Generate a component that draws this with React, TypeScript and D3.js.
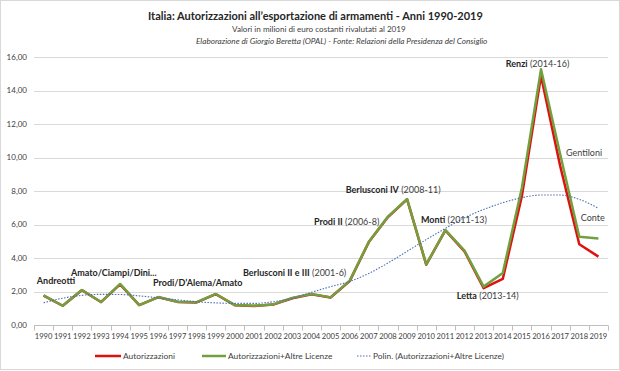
import React, {useRef, useEffect} from 'react';
import * as d3 from 'd3';

const width = 620;
const height = 371;
const font = 'Lato, "Open Sans", sans-serif';

const years = d3.range(1990, 2020).map(String);

// Autorizzazioni (milioni di euro costanti 2019)
const autorizzazioni = [
  1.75, 1.15, 2.08, 1.37, 2.43, 1.19, 1.66, 1.38, 1.35, 1.84,
  1.18, 1.14, 1.22, 1.6, 1.83, 1.64, 2.62, 4.95, 6.45, 7.5,
  3.6, 5.65, 4.4, 2.2, 2.75, 7.7, 14.87, 9.5, 4.82, 4.08,
];

// Autorizzazioni + Altre Licenze
const altreLicenze = [
  1.77, 1.15, 2.09, 1.37, 2.45, 1.19, 1.67, 1.39, 1.36, 1.85,
  1.19, 1.15, 1.23, 1.62, 1.85, 1.65, 2.65, 4.97, 6.47, 7.52,
  3.62, 5.67, 4.44, 2.29, 3.1, 8.2, 15.27, 10.2, 5.27, 5.17,
];

// Polin. (Autorizzazioni+Altre Licenze)
const polinomiale = [
  1.33, 1.6, 1.77, 1.83, 1.82, 1.74, 1.62, 1.5, 1.39, 1.32,
  1.29, 1.29, 1.39, 1.59, 1.95, 2.29, 2.6, 3.08, 3.7, 4.4,
  5.1, 5.77, 6.4, 6.9, 7.3, 7.6, 7.76, 7.76, 7.5, 6.97,
];

const yTicks = [0, 2, 4, 6, 8, 10, 12, 14, 16];

const annotations = [
  {name: 'Andreotti', period: '', year: 1989.65, v: 2.64},
  {name: 'Amato/Ciampi/Dini...', period: '', year: 1991.43, v: 3.1},
  {name: 'Prodi/D\u2019Alema/Amato', period: '', year: 1995.72, v: 2.53},
  {name: 'Berlusconi II e III', period: '(2001-6)', year: 2000.42, v: 3.09},
  {name: 'Prodi II', period: '(2006-8)', year: 2004.13, v: 6.17},
  {name: 'Berlusconi IV', period: '(2008-11)', year: 2005.79, v: 8.06},
  {name: 'Monti', period: '(2011-13)', year: 2009.72, v: 6.27},
  {name: 'Letta', period: '(2013-14)', year: 2011.6, v: 1.75},
  {name: 'Renzi', period: '(2014-16)', year: 2014.16, v: 15.58},
  {name: '', period: 'Gentiloni', year: 2017.3, v: 10.25},
  {name: '', period: 'Conte', year: 2018.08, v: 6.37},
];

const colors = {
  red: '#e0100f',
  green: '#72a03f',
  trend: '#4a6fb5',
  grid: '#d9d9d9',
  text: '#404040',
};

const margin = {top: 57, right: 12, bottom: 46, left: 34};

const setupChart = container => {
  const svg = d3.select(container);
  svg.selectAll('*').remove();

  const x = d3
    .scaleBand()
    .domain(years)
    .range([margin.left, width - margin.right]);
  const bw = x.bandwidth();
  const cx = i => x(years[i]) + bw / 2;
  const xl = d3
    .scaleLinear()
    .domain([1990, 2019])
    .range([cx(0), cx(years.length - 1)]);
  const y = d3
    .scaleLinear()
    .domain([0, 16])
    .range([height - margin.bottom, margin.top]);

  svg
    .append('rect')
    .attr('x', 0.5)
    .attr('y', 0.5)
    .attr('width', width - 1)
    .attr('height', height - 2)
    .attr('fill', 'white')
    .attr('stroke', colors.grid);

  // titles
  const titles = svg.append('g').attr('font-family', font);
  titles
    .append('text')
    .attr('x', 148)
    .attr('y', 19.5)
    .attr('font-size', 11)
    .attr('font-weight', 'bold')
    .attr('fill', '#262626')
    .text('Italia: Autorizzazioni all\u2019esportazione di armamenti - Anni 1990-2019');
  titles
    .append('text')
    .attr('x', 232)
    .attr('y', 31.5)
    .attr('font-size', 8.1)
    .attr('fill', colors.text)
    .text('Valori in milioni di euro costanti rivalutati al 2019');
  titles
    .append('text')
    .attr('x', 196)
    .attr('y', 44)
    .attr('font-size', 8.2)
    .attr('font-style', 'italic')
    .attr('fill', colors.text)
    .text('Elaborazione di Giorgio Beretta (OPAL) - Fonte: Relazioni della Presidenza del Consiglio');

  // grid + y labels
  svg
    .append('g')
    .selectAll('line')
    .data(yTicks.slice(1))
    .enter()
    .append('line')
    .attr('x1', margin.left)
    .attr('x2', width - margin.right)
    .attr('y1', d => Math.round(y(d)) + 0.5)
    .attr('y2', d => Math.round(y(d)) + 0.5)
    .attr('stroke', colors.grid);

  svg
    .append('g')
    .attr('font-family', font)
    .attr('font-size', 8)
    .attr('fill', colors.text)
    .attr('text-anchor', 'end')
    .selectAll('text')
    .data(yTicks)
    .enter()
    .append('text')
    .attr('x', 27)
    .attr('y', d => y(d))
    .attr('dy', '0.35em')
    .text(d => d3.format('.2f')(d).replace('.', ','));

  // x axis
  const axisY = Math.round(y(0)) + 0.5;
  const xa = svg.append('g').attr('stroke', '#bfbfbf');
  xa.append('line')
    .attr('x1', margin.left)
    .attr('x2', width - margin.right)
    .attr('y1', axisY)
    .attr('y2', axisY);
  xa.selectAll('.tick')
    .data(d3.range(years.length + 1))
    .enter()
    .append('line')
    .attr('x1', i => Math.round(margin.left + i * bw) + 0.5)
    .attr('x2', i => Math.round(margin.left + i * bw) + 0.5)
    .attr('y1', axisY)
    .attr('y2', axisY + 5);

  svg
    .append('g')
    .attr('font-family', font)
    .attr('font-size', 7.6)
    .attr('fill', colors.text)
    .attr('text-anchor', 'middle')
    .selectAll('text')
    .data(years)
    .enter()
    .append('text')
    .attr('x', d => x(d) + bw / 2)
    .attr('y', 339)
    .text(d => d);

  // series
  const line = d3
    .line()
    .x((d, i) => cx(i))
    .y(d => y(d));

  svg
    .append('path')
    .attr('d', line(autorizzazioni))
    .attr('fill', 'none')
    .attr('stroke', colors.red)
    .attr('stroke-width', 2.5)
    .attr('stroke-linejoin', 'round');

  svg
    .append('path')
    .attr('d', line(altreLicenze))
    .attr('fill', 'none')
    .attr('stroke', colors.green)
    .attr('stroke-width', 2.5)
    .attr('stroke-linejoin', 'round');

  svg
    .append('path')
    .attr('d', line.curve(d3.curveMonotoneX)(polinomiale))
    .attr('fill', 'none')
    .attr('stroke', colors.trend)
    .attr('stroke-width', 1.1)
    .attr('stroke-dasharray', '1.5,1.5');

  // annotations
  const ann = svg
    .append('g')
    .attr('font-family', font)
    .attr('font-size', 9)
    .attr('fill', '#262626')
    .selectAll('text')
    .data(annotations)
    .enter()
    .append('text')
    .attr('x', d => xl(d.year))
    .attr('y', d => y(d.v))
    .attr('dy', '0.35em');
  ann
    .append('tspan')
    .attr('font-weight', 'bold')
    .text(d => d.name);
  ann
    .append('tspan')
    .attr('fill', colors.text)
    .text(d => (d.name && d.period ? ' ' : '') + d.period);

  // legend
  const legend = [
    {label: 'Autorizzazioni', color: colors.red, x: 95, w: 26, dash: null, sw: 2.5},
    {label: 'Autorizzazioni+Altre Licenze', color: colors.green, x: 202, w: 24, dash: null, sw: 2.5},
    {label: 'Polin. (Autorizzazioni+Altre Licenze)', color: colors.trend, x: 357, w: 14, dash: '1.5,1.5', sw: 1.1},
  ];
  const lg = svg
    .append('g')
    .selectAll('g')
    .data(legend)
    .enter()
    .append('g')
    .attr('transform', d => `translate(${d.x}, 356)`);
  lg.append('line')
    .attr('x2', d => d.w)
    .attr('stroke', d => d.color)
    .attr('stroke-width', d => d.sw)
    .attr('stroke-dasharray', d => d.dash);
  lg.append('text')
    .attr('x', d => d.w + 2)
    .attr('dy', '0.35em')
    .attr('font-family', font)
    .attr('font-size', 8.4)
    .attr('fill', colors.text)
    .text(d => d.label);
};

export default () => {
  const svgRef = useRef(null);
  useEffect(() => {
    document.body.style.margin = '0';
    if (svgRef.current) {
      setupChart(svgRef.current);
    }
  }, []);
  return <svg ref={svgRef} width={width} height={height} style={{display: 'block'}} />;
};
